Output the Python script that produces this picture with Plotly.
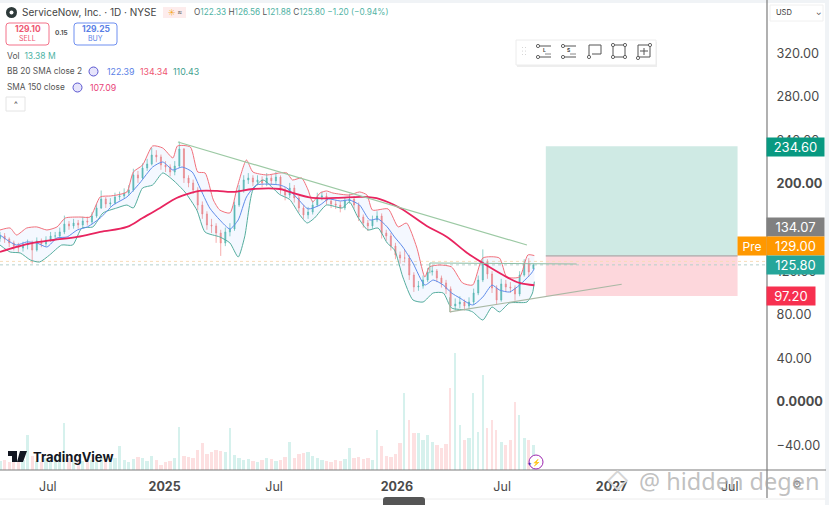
import plotly.graph_objects as go

# candles, one row per 5 sessions
closes = [152.3, 149.5, 145.9, 143.1, 141.3, 144.0, 145.0, 139.4, 147.7, 145.0, 148.6, 152.3, 152.3, 156.0, 163.3, 161.5,
          164.2, 162.4, 166.1, 165.1, 170.6, 178.0, 186.2, 181.7, 182.6, 188.1, 189.0, 191.7, 194.5, 208.3, 205.5, 214.7,
          218.3, 226.6, 224.8, 217.4, 215.6, 211.0, 216.5, 232.1, 205.5, 200.9, 194.5, 180.7, 172.5, 162.4, 161.5, 155.0,
          145.9, 156.0, 158.7, 180.7, 194.5, 203.7, 205.5, 201.8, 203.7, 200.9, 205.5, 202.8, 206.4, 194.5, 189.9, 196.3,
          187.2, 178.0, 171.6, 174.3, 180.7, 188.1, 189.0, 184.4, 181.7, 180.7, 178.0, 184.4, 186.2, 180.7, 169.7, 164.2,
          161.5, 167.0, 170.6, 155.0, 152.3, 143.1, 134.9, 132.1, 132.1, 116.5, 105.5, 106.4, 111.9, 119.3, 120.2, 113.8,
          109.2, 103.7, 88.1, 89.9, 91.7, 88.1, 91.7, 100.0, 111.9, 128.4, 117.4, 104.6, 93.6, 108.3, 105.5, 104.6,
          99.1, 116.5, 127.5, 119.3, 125.8]
opens = [150.0, 152.3, 149.5, 145.9, 143.1, 141.3, 144.0, 145.0, 139.4, 147.7, 145.0, 148.6, 152.3, 152.3, 156.0, 163.3,
         161.5, 164.2, 162.4, 166.1, 165.1, 170.6, 178.0, 186.2, 181.7, 182.6, 188.1, 189.0, 191.7, 194.5, 208.3, 205.5,
         214.7, 218.3, 226.6, 224.8, 217.4, 215.6, 211.0, 216.5, 232.1, 205.5, 200.9, 194.5, 180.7, 172.5, 162.4, 161.5,
         155.0, 145.9, 156.0, 158.7, 180.7, 194.5, 203.7, 205.5, 201.8, 203.7, 200.9, 205.5, 202.8, 206.4, 194.5, 189.9,
         196.3, 187.2, 178.0, 171.6, 174.3, 180.7, 188.1, 189.0, 184.4, 181.7, 180.7, 178.0, 184.4, 186.2, 180.7, 169.7,
         164.2, 161.5, 167.0, 170.6, 155.0, 152.3, 143.1, 134.9, 132.1, 132.1, 116.5, 105.5, 106.4, 111.9, 119.3, 120.2,
         113.8, 109.2, 103.7, 88.1, 89.9, 91.7, 88.1, 91.7, 100.0, 111.9, 128.4, 117.4, 104.6, 93.6, 108.3, 105.5,
         104.6, 99.1, 116.5, 127.5, 122.33]
highs = [156, 155, 151, 148, 146, 147, 149, 148, 151, 150, 152, 156, 156, 160, 171, 166,
         168, 167, 170, 170, 174, 182, 194, 188, 187, 192, 193, 196, 199, 214, 212, 219,
         223, 233, 231, 227, 221, 218, 221, 239, 233, 208, 204, 197, 184, 175, 168, 164,
         158, 160, 164, 184, 199, 208, 210, 208, 208, 207, 210, 209, 211, 208, 197, 201,
         199, 189, 181, 179, 185, 192, 193, 192, 187, 185, 184, 188, 191, 189, 183, 172,
         167, 171, 175, 173, 158, 155, 146, 138, 140, 135, 119, 111, 116, 123, 125, 122,
         116, 112, 106, 95, 97, 94, 96, 104, 116, 140, 131, 120, 107, 113, 112, 110,
         107, 120, 131, 132, 126.56]
lows = [147, 146, 142, 139, 137, 138, 140, 127, 138, 142, 143, 147, 149, 150, 154, 158,
        159, 159, 160, 162, 163, 169, 177, 178, 179, 181, 185, 187, 189, 193, 201, 204,
        212, 217, 220, 213, 211, 207, 208, 215, 201, 197, 191, 176, 168, 158, 155, 146,
        134, 143, 152, 157, 179, 192, 200, 198, 199, 197, 198, 199, 200, 191, 185, 187,
        183, 174, 168, 168, 172, 179, 185, 181, 178, 177, 174, 176, 182, 177, 166, 160,
        157, 159, 165, 150, 148, 139, 131, 127, 128, 112, 101, 102, 104, 110, 116, 110,
        105, 99, 82, 84, 86, 84, 85, 89, 98, 110, 113, 100, 89, 92, 101, 100,
        93, 97, 115, 115, 121.88]
# volume in millions, same rows
volumes = [4.8, 5.3, 4.2, 6.4, 4.8, 5.3, 18.6, 7.4, 4.8, 4.2, 6.4, 5.3, 6.9, 7.4, 24.9, 6.4,
           5.3, 5.8, 4.8, 5.8, 5.3, 4.2, 6.4, 5.3, 4.8, 6.4, 12.7, 5.3, 4.2, 5.8, 6.9, 6.4,
           4.8, 7.4, 5.3, 2.7, 4.2, 4.8, 6.4, 22.8, 7.4, 6.9, 6.4, 10.6, 14.3, 8.5, 9.5, 10.6,
           10.1, 9.5, 22.3, 8.0, 6.4, 5.3, 5.8, 4.8, 4.2, 5.3, 6.4, 5.8, 4.8, 5.3, 6.9, 14.8,
           6.4, 8.5, 9.0, 9.5, 7.4, 6.4, 5.3, 4.8, 4.2, 5.3, 4.8, 5.8, 11.7, 6.4, 6.9, 5.8,
           6.4, 5.3, 21.2, 12.7, 7.4, 6.9, 8.5, 14.3, 40.8, 26.5, 19.6, 19.6, 15.9, 18.6, 14.8, 13.3,
           11.7, 13.8, 43.5, 62.0, 23.9, 15.9, 17.0, 40.8, 20.1, 50.4, 22.3, 26.5, 21.2, 14.8, 13.3, 15.9,
           36.0, 29.2, 17.0, 15.9, 13.38]

upper_x = [0, 11, 18, 29, 40, 51, 62, 71, 87, 98, 109, 120, 127, 138, 145, 155, 166, 177, 188, 193, 207, 215, 223, 232,
           239, 250, 258, 268, 275, 290, 304, 312, 318, 328, 335, 340, 348, 355, 362, 380, 391, 399, 405, 422, 433, 442,
           453, 462, 467, 478, 491, 503, 514, 525, 543, 551, 565, 574, 581]
upper_v = [157.8, 159.6, 153.2, 159.6, 160.6, 157.8, 160.6, 168.8, 169.7, 169.7, 188.1, 189.0, 189.9, 192.7, 211.0, 217.4,
           234.9, 233.0, 223.9, 234.9, 233.9, 211.0, 210.1, 185.3, 176.1, 173.4, 197.2, 222.0, 211.0, 208.3, 210.1, 210.1,
           203.7, 205.5, 194.5, 183.5, 191.7, 193.6, 191.7, 189.9, 192.7, 189.9, 176.1, 177.1, 160.6, 164.2, 142.2, 114.7,
           123.9, 125.7, 123.9, 109.2, 107.3, 132.1, 132.1, 114.7, 114.7, 134.9, 134.34]
mid_x = [0, 11, 18, 29, 40, 51, 62, 73, 84, 95, 109, 123, 138, 152, 166, 177, 188, 198, 209, 217, 228, 239, 250, 259,
         268, 279, 304, 312, 323, 335, 348, 357, 370, 380, 391, 402, 411, 421, 429, 438, 449, 462, 471, 482, 491, 500,
         514, 525, 535, 543, 554, 565, 578, 581]
mid_v = [153.2, 146.8, 144.0, 146.8, 145.9, 142.2, 150.5, 151.4, 157.8, 160.6, 168.8, 180.7, 188.1, 200.9, 215.6, 220.2,
         212.8, 215.6, 211.0, 197.2, 178.0, 167.0, 158.7, 167.0, 188.1, 199.1, 199.1, 196.3, 187.2, 177.1, 180.7, 186.2,
         184.4, 185.3, 180.7, 167.0, 168.0, 160.6, 151.4, 142.2, 127.5, 107.3, 111.9, 107.3, 100.0, 95.4, 89.0, 96.3,
         107.3, 102.8, 100.9, 107.3, 118.3, 122.39]
lower_x = [0, 11, 22, 33, 43, 54, 67, 79, 89, 101, 112, 127, 138, 145, 155, 166, 177, 188, 201, 214, 223, 239, 250, 259,
           266, 275, 286, 304, 315, 326, 334, 342, 355, 372, 380, 389, 400, 411, 421, 429, 438, 449, 460, 471, 482, 491,
           508, 514, 525, 535, 543, 554, 573, 579, 581]
lower_v = [144.0, 137.6, 136.7, 130.3, 128.4, 134.9, 144.0, 144.0, 159.6, 160.6, 173.4, 178.0, 180.7, 178.0, 196.3, 199.1,
           210.1, 203.7, 192.7, 176.1, 155.9, 151.4, 145.9, 133.0, 151.4, 194.5, 203.7, 190.4, 185.8, 171.6, 164.2, 168.8,
           180.7, 178.0, 183.5, 169.7, 157.8, 159.6, 145.9, 139.4, 114.7, 93.6, 91.7, 100.0, 100.0, 86.2, 84.4, 82.6,
           75.2, 87.2, 82.6, 90.8, 91.7, 100.0, 110.43]
sma_x = [0, 18, 36, 58, 84, 109, 138, 155, 174, 192, 207, 217, 236, 253, 275, 304, 315, 340, 366, 395, 413, 435, 464, 486,
         508, 525, 547, 565, 581]
sma_v = [137.6, 142.2, 145.9, 148.6, 151.4, 156.0, 160.6, 168.8, 178.0, 187.2, 191.7, 193.6, 193.6, 192.7, 195.4, 195.4,
         192.7, 187.2, 187.2, 188.1, 186.2, 178.0, 161.5, 151.4, 136.7, 127.5, 116.5, 109.2, 107.09]

price_ticks = [320, 280, 240, 200, 120, 80, 40, 0, -40]
price_text = ["320.00", "280.00", "240.00", "<b>200.00</b>", "120.00", "80.00", "40.00", "<b>0.0000</b>", "−40.00"]
time_ticks = [52, 179, 298, 431.5, 546, 665, 793.5]
time_text = ["Jul", "<b>2025</b>", "Jul", "<b>2026</b>", "Jul", "<b>2027</b>", "Jul"]

TEAL = "#26a69a"
RED = "#ef5350"
PLOT_W = 767
PLOT_H = 470

sessions = [i * 5 for i in range(len(closes))]


def px(x):
    return x / PLOT_W


def py(y):
    return 1 - y / PLOT_H


def label(x, y, text, size=9, color="#555", anchor="left", bg=None, w=None, h=None, family="Inter"):
    return dict(x=px(x), y=py(y), xref="paper", yref="paper", text=text, showarrow=False, xanchor=anchor, yanchor="middle",
                font=dict(family=family, size=size, color=color), bgcolor=bg, width=w, height=h, borderpad=0)


def box(x0, y0, x1, y1, fill="rgba(0,0,0,0)", line="rgba(0,0,0,0)", width=1, layer="above"):
    return dict(type="rect", xref="paper", yref="paper", x0=px(x0), x1=px(x1), y0=py(y0), y1=py(y1),
                fillcolor=fill, line=dict(color=line, width=width), layer=layer)


def seg(x0, y0, x1, y1, color="#555", width=1):
    return dict(type="line", xref="paper", yref="paper", x0=px(x0), x1=px(x1), y0=py(y0), y1=py(y1),
                line=dict(color=color, width=width), layer="above")


def dot(x, y, r=1.6, color="#555"):
    return dict(type="circle", xref="paper", yref="paper", x0=px(x - r), x1=px(x + r), y0=py(y - r), y1=py(y + r),
                fillcolor="white", line=dict(color=color, width=0.9), layer="above")


def price_line(x0, v0, x1, v1, color, width=1, dash="solid", layer="above"):
    return dict(type="line", xref="x", yref="y", x0=x0, x1=x1, y0=v0, y1=v1, line=dict(color=color, width=width, dash=dash), layer=layer)


fig = go.Figure()

# spikes were single thin sessions in the picture, so narrow the tall bars
fig.add_trace(go.Bar(x=sessions, y=volumes, yaxis="y2", width=[1.6 if v > 20 else 3.6 for v in volumes],
                     marker=dict(color=["#d6f1ed" if c >= o else "#fde0e1" for o, c in zip(opens, closes)], line_width=0),
                     hoverinfo="skip"))

fig.add_trace(go.Scatter(x=upper_x, y=upper_v, mode="lines", line=dict(color="#f2717c", width=1, shape="spline", smoothing=0.6), hoverinfo="skip"))
fig.add_trace(go.Scatter(x=lower_x, y=lower_v, mode="lines", line=dict(color="#55ad9e", width=1, shape="spline", smoothing=0.6), fill="tonexty",
                         fillcolor="rgba(41,120,255,0.05)", hoverinfo="skip"))
fig.add_trace(go.Scatter(x=mid_x, y=mid_v, mode="lines", line=dict(color="#5f8cea", width=1, shape="spline", smoothing=0.6), hoverinfo="skip"))

fig.add_trace(go.Candlestick(x=sessions, open=opens, high=highs, low=lows, close=closes, whiskerwidth=0,
                             increasing=dict(line=dict(color="#5dbcb2", width=0.7), fillcolor="#5dbcb2"),
                             decreasing=dict(line=dict(color="#f48a88", width=0.7), fillcolor="#f48a88"),
                             hoverinfo="skip"))

fig.add_trace(go.Scatter(x=sma_x, y=sma_v, mode="lines", line=dict(color="#e8245f", width=1.8, shape="spline"), hoverinfo="skip"))

shapes = [
    # long position tool
    dict(type="rect", xref="x", yref="y", x0=593.5, x1=802, y0=134.07, y1=234.6, fillcolor="#cfeae4", line_width=0, layer="below"),
    dict(type="rect", xref="x", yref="y", x0=593.5, x1=802, y0=97.2, y1=134.07, fillcolor="#fdd7dc", line_width=0, layer="below"),
    price_line(593.5, 134.07, 802, 134.07, "#a8a8a8", 1.2),
    # last price dotted lines
    price_line(0, 125.8, 834, 125.8, "#b5d0cd", 1, "dot", "below"),
    price_line(0, 129, 834, 129, "#f8dcb8", 1, "dot", "below"),
    # drawn trend lines
    price_line(193.5, 238.5, 573, 144, "#9cc9a4", 1.2),
    price_line(467.4, 127.5, 627, 126.6, "#8fbfa8", 1.1),
    price_line(467.4, 127.5, 467.4, 118, "#8fbfa8", 1.1),
    price_line(489, 82.6, 676, 108, "#a9b8a4", 1.2),
    price_line(489, 82.6, 489, 96, "#a9b8a4", 1.1),
    # page chrome
    box(0, 0, 829, 3, fill="#f0f3f6"),
    box(825, 0, 829, 505, fill="#f0f3f6"),
    seg(767, 0, 767, 498, "#7c7c7c", 1.2),
    seg(0, 470, 826, 470, "#7c7c7c", 1.2),
    seg(0, 499, 825, 499, "#ececec", 1),
    dict(type="path", xref="paper", yref="paper", fillcolor="#555", line_width=0,
         path=f"M {px(383)} {py(505)} L {px(383)} {py(500)} Q {px(383)} {py(497)} {px(386)} {py(497)} "
              f"L {px(422)} {py(497)} Q {px(425)} {py(497)} {px(425)} {py(500)} L {px(425)} {py(505)} Z"),
    # order buttons
    dict(type="path", xref="paper", yref="paper", fillcolor="white", line=dict(color="#f3738a", width=1),
         path=f"M {px(9)} {py(23)} L {px(46)} {py(23)} Q {px(49)} {py(23)} {px(49)} {py(26)} L {px(49)} {py(42)} Q {px(49)} {py(45)} {px(46)} {py(45)} "
              f"L {px(9)} {py(45)} Q {px(6)} {py(45)} {px(6)} {py(42)} L {px(6)} {py(26)} Q {px(6)} {py(23)} {px(9)} {py(23)} Z"),
    dict(type="path", xref="paper", yref="paper", fillcolor="white", line=dict(color="#6f8ff0", width=1),
         path=f"M {px(77)} {py(23)} L {px(114)} {py(23)} Q {px(117)} {py(23)} {px(117)} {py(26)} L {px(117)} {py(42)} Q {px(117)} {py(45)} {px(114)} {py(45)} "
              f"L {px(77)} {py(45)} Q {px(74)} {py(45)} {px(74)} {py(42)} L {px(74)} {py(26)} Q {px(74)} {py(23)} {px(77)} {py(23)} Z"),
    box(6, 97, 25, 111, fill="white", line="#e4e4e4"),
    # header icons
    dict(type="circle", xref="paper", yref="paper", x0=px(6), x1=px(17), y0=py(7), y1=py(18), fillcolor="#2e3a3a", line_width=0),
    dict(type="circle", xref="paper", yref="paper", x0=px(9.5), x1=px(13.5), y0=py(10.5), y1=py(14.5), fillcolor="white", line_width=0),
    box(163, 7, 186, 18, fill="#fdecec"),
    dict(type="circle", xref="paper", yref="paper", x0=px(89), x1=px(98), y0=py(67), y1=py(76), fillcolor="#e6e4fb", line=dict(color="#5b57d0", width=1)),
    dict(type="circle", xref="paper", yref="paper", x0=px(73), x1=px(82), y0=py(83), y1=py(92), fillcolor="#e6e4fb", line=dict(color="#5b57d0", width=1)),
    # USD box
    box(770, 5, 823, 21, fill="white", line="#f0f0f0"),
    # drawing toolbar
    box(517, 42, 657, 67, fill="#eeeeee"),
    box(516, 40, 656, 65, fill="white", line="#ececec"),
    seg(537, 46, 551, 46), seg(537, 57, 551, 57), seg(545, 54, 551, 54, "#888"),
    seg(562, 46, 576, 46), seg(562, 57, 576, 57), seg(570, 54, 576, 54, "#888"),
    seg(589, 45, 601, 45), seg(601, 45, 601, 54), seg(601, 54, 592, 54), seg(589, 45, 589, 57),
    box(613, 45, 625, 57, line="#555"),
    box(638, 45, 650, 57, line="#555"), seg(644, 48, 644, 55), seg(640, 51, 648, 51),
    dot(538, 46), dot(538, 57), dot(563, 46), dot(563, 57), dot(589, 57),
    dot(613, 45), dot(625, 45), dot(613, 57), dot(625, 57), dot(638, 58), dot(650, 45),
    # TradingView mark
    dict(type="path", xref="paper", yref="paper", fillcolor="#131722", line_width=0,
         path=f"M {px(8)} {py(451)} L {px(17)} {py(451)} L {px(17)} {py(462)} L {px(12)} {py(462)} L {px(12)} {py(456)} L {px(8)} {py(456)} Z "
              f"M {px(20)} {py(451)} L {px(27)} {py(451)} L {px(23)} {py(462)} L {px(17)} {py(462)} Z"),
    # flash icon
    dict(type="circle", xref="paper", yref="paper", x0=px(529), x1=px(543), y0=py(455), y1=py(469), fillcolor="white", line=dict(color="#9c27b0", width=1)),
]
for dx in (522.5, 525.5):
    for dy in (47.5, 51, 54.5):
        shapes.append(dict(type="circle", xref="paper", yref="paper", x0=px(dx - 0.6), x1=px(dx + 0.6), y0=py(dy - 0.6), y1=py(dy + 0.6),
                           fillcolor="#cfcfcf", line_width=0))

green = "#4fb3a4"
notes = [
    label(21, 12, "ServiceNow, Inc. · 1D · NYSE", 10, "#444"),
    label(174.5, 12, "<span style='color:#f5a623'>☀</span> <span style='color:#666'>≈</span>", 7, anchor="center"),
    label(193, 12, f"O<span style='color:{green}'>122.33</span> H<span style='color:{green}'>126.56</span> L<span style='color:{green}'>121.88</span> "
                   f"C<span style='color:{green}'>125.80</span> <span style='color:{green}'>−1.20 (−0.94%)</span>", 8.25),
    label(27.5, 29, "<b>129.10</b>", 8.5, "#ee5570", "center"),
    label(27.5, 38.5, "SELL", 7, "#ee5570", "center"),
    label(61, 33.5, "<b>0.15</b>", 6.5, "#555", "center"),
    label(95.5, 29, "<b>129.25</b>", 8.5, "#5a7fe6", "center"),
    label(95.5, 38.5, "BUY", 7, "#5a7fe6", "center"),
    label(6, 55.5, f"Vol  <span style='color:{green}'>13.38 M</span>", 8.5),
    label(6, 71.5, "BB 20 SMA close 2", 8.3),
    label(106, 71.5, "122.39", 8.8, "#5a7fe6"),
    label(139, 71.5, "134.34", 8.8, "#ee5570"),
    label(172, 71.5, "110.43", 8.8, "#3f9f8f"),
    label(6, 87, "SMA 150 close", 8.3),
    label(89, 87, "107.09", 8.8, "#e8457a"),
    label(15.5, 104, "^", 8, "#333", "center"),
    label(775, 13, "USD", 7.5, "#333"),
    label(818, 13, "⌄", 7, "#333", "center"),
    label(544, 50.5, "<b>L</b>", 5, "#444", "center"),
    label(569, 50.5, "<b>S</b>", 5, "#444", "center"),
    # price tags
    label(795.5, 147, "234.60", 13, "white", "center", "#089981", 57, 18),
    label(795.5, 227, "134.07", 13, "white", "center", "#808080", 57, 18),
    label(795.5, 246, "129.00", 13, "white", "center", "#ff9800", 57, 18),
    label(752, 246, "Pre", 12, "white", "center", "#ff9800", 28, 18),
    label(795.5, 265, "125.80", 13, "white", "center", TEAL, 57, 18),
    label(791, 296, "97.20", 13, "white", "center", "#f7304f", 48, 18),
    label(32, 456.5, "<b>TradingView</b>", 13, "#131722"),
    label(536, 462, "⚡", 7, "#9c27b0", "center"),
    label(529, 463, "✦", 6, "#3d2db5", "center"),
    label(797, 484, "⚙", 11, "#888", "center"),
    # watermark
    label(617, 481, "◇", 22, "#d5d5d5", "center"),
    label(638, 481, "@ hidden degen", 23.5, "rgba(165,165,165,0.7)", family="Noto Sans"),
]

fig.update_layout(
    width=829, height=505,
    margin=dict(l=0, r=62, t=0, b=35),
    paper_bgcolor="white", plot_bgcolor="white",
    showlegend=False, hovermode=False, bargap=0, boxgap=0.68,
    shapes=shapes, annotations=notes,
    font=dict(family="Inter", color="#555"),
    xaxis=dict(range=[0, 834], rangeslider_visible=False, showgrid=False, zeroline=False,
               tickmode="array", tickvals=time_ticks, ticktext=time_text, ticks="outside", ticklen=5, tickcolor="rgba(0,0,0,0)",
               tickfont=dict(size=12.5, color="#4a4a4a"), showline=False),
    yaxis=dict(range=[-62.4, 368.8], side="right", showgrid=False, zeroline=False, tickmode="array",
               tickvals=price_ticks, ticktext=price_text, ticks="outside", ticklen=6, tickcolor="rgba(0,0,0,0)",
               tickfont=dict(size=12.7, color="#4a4a4a"), showline=False),
    yaxis2=dict(range=[0, 249], overlaying="y", visible=False),
)

fig.write_html("out.html", config={"displayModeBar": False},
               post_script="document.body.style.margin='0';document.body.style.overflow='hidden';")
